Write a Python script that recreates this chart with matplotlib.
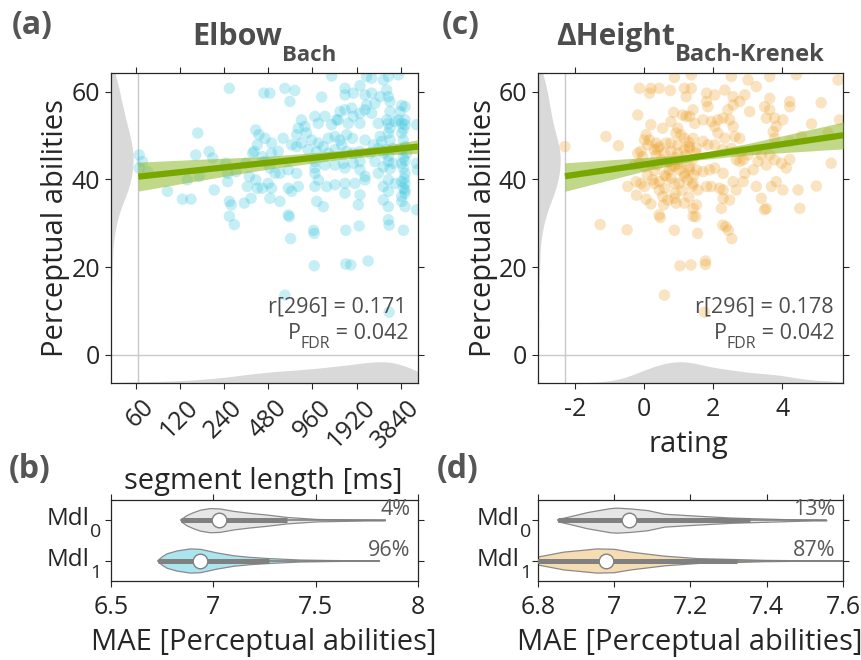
import numpy as np
import matplotlib
matplotlib.use("Agg")
import matplotlib.pyplot as plt
import matplotlib.transforms as mtransforms
from matplotlib.ticker import NullLocator

FONT = "Open Sans"
plt.rcParams["font.family"] = [FONT, "DejaVu Sans"]
plt.rcParams["axes.unicode_minus"] = False

# ---------------- data: panel (a) Elbow_Bach ----------------
elbow_ms = [
    261, 159, 63.5, 66.6, 63.5, 72.5, 154, 190, 201, 247,
    254, 254, 163, 135, 99, 125, 143, 206, 261, 269,
    261, 330, 367, 357, 395, 346, 405, 437, 290, 339,
    395, 415, 405, 385, 376, 437, 448,
    282, 668, 682, 978, 988, 1621, 1999, 3199, 4005, 988,
    1621, 1754, 2301, 624, 3199,
    1298, 2246, 2432, 3160, 3697, 2920, 493, 624, 728, 675,
    1110, 1600, 1600, 2025, 1823, 2191, 2432, 2780, 3080, 3160,
    3240, 4105, 2560, 2246, 1777, 1600, 1400, 1480, 809, 999,
    1053, 1169, 1298, 1441, 1686, 1823, 2025, 2025, 2191, 2432,
    2700, 3240, 3080, 3510, 3697, 3896, 4105, 4925, 854, 769,
    750, 876, 948, 1053, 1233, 1368, 1480, 1642, 1800, 1520,
    2191, 2497, 2780, 2850, 3160, 3240, 3896, 3995, 4105, 506,
    607, 693, 750, 809, 898, 1027, 1139, 1233, 1368, 1642,
    1823, 2025, 2370, 2700, 2920, 3410, 3896, 4210, 456, 506,
    562, 456, 493, 534, 577, 658, 750, 999, 999, 999,
    1169, 1368, 1560, 1600, 1823, 2025, 2025, 2191, 2560, 2700,
    2920, 3160, 3410, 3896, 3995, 4105, 4925, 4980, 480, 506,
    658, 693, 769, 999, 1053, 1200, 1368, 1600, 1600, 1870,
    2025, 2191, 2920, 3160, 3510, 3896, 4105, 4105, 3896, 493,
    577, 1027, 1139, 1973, 2920, 3160, 4105, 4925, 658, 3160,
    4000, 4105, 4050, 3995, 4105, 3900, 4105, 4000, 3800, 3896,
    3160, 3240, 3080, 3160, 3240, 3160,
]
elbow_perc = [
    60.8, 50.6, 45.6, 44.1, 42.6, 41.8, 45.6, 46.4, 44.9, 43.7,
    41.4, 39.5, 40.7, 39.9, 37.3, 35.5, 35.5, 37.6, 35.0, 34.2,
    31.6, 34.6, 35.7, 40.7, 39.9, 38.4, 38.0, 38.0, 41.8, 43.7,
    51.3, 50.2, 47.9, 46.4, 46.0, 45.2, 59.7,
    29.7, 31.5, 26.5, 28.4, 27.7, 28.4, 29.4, 29.6, 28.4, 20.3,
    20.7, 20.5, 21.4, 13.6, 9.7,
    63.6, 63.5, 63.1, 63.5, 63.9, 62.7, 59.7, 60.8, 60.3, 57.8,
    58.8, 60.8, 59.3, 61.4, 59.7, 59.3, 59.7, 58.9, 60.4, 58.9,
    57.8, 56.6, 57.4, 57.0, 56.3, 55.9, 53.6, 55.5, 53.6, 54.4,
    52.8, 54.4, 52.5, 53.6, 52.8, 54.4, 55.1, 52.8, 55.9, 55.1,
    52.8, 55.5, 53.6, 53.2, 53.6, 52.8, 53.6, 52.5, 52.1, 51.7,
    50.2, 50.6, 49.0, 48.3, 49.4, 49.8, 49.0, 50.2, 49.4, 47.9,
    49.0, 47.9, 49.8, 48.7, 50.6, 49.0, 50.6, 49.0, 47.5, 48.3,
    49.4, 47.9, 47.5, 48.3, 46.8, 46.4, 47.5, 46.0, 46.8, 46.4,
    46.0, 46.4, 46.0, 47.1, 46.0, 47.1, 46.8, 46.0, 49.4, 46.0,
    46.4, 44.1, 42.6, 41.4, 41.4, 42.2, 41.4, 44.1, 42.6, 41.4,
    43.3, 43.3, 43.7, 42.6, 43.7, 44.1, 42.2, 40.7, 44.1, 41.4,
    42.9, 44.1, 43.7, 43.7, 42.6, 41.4, 43.7, 42.2, 39.1, 38.0,
    38.0, 37.3, 38.4, 38.4, 39.9, 38.4, 38.8, 39.1, 36.9, 39.1,
    36.5, 39.9, 38.4, 39.9, 39.1, 39.5, 39.1, 37.6, 36.1, 35.7,
    35.0, 35.0, 33.8, 34.2, 35.3, 33.8, 33.8, 33.1, 31.9, 30.8,
    45.0, 44.3, 40.2, 38.0, 36.9, 35.0, 52.5, 51.5, 55.5, 56.9,
    52.8, 51.7, 46.8, 45.3, 42.4, 37.3,
]
seg_ticks = [60, 120, 240, 480, 960, 1920, 3840]
seg_tick_labels = ["60", "120", "240", "480", "960", "1920", "3840"]
elbow_fit_ms = [62.5, 5030]
elbow_fit_y = [40.65, 47.5]
elbow_ci_ms = [62.5, 150, 450, 1500, 3000, 5030]
elbow_ci_lo = [37.35, 39.55, 42.23, 44.61, 45.59, 45.95]
elbow_ci_hi = [43.95, 44.55, 45.23, 46.61, 47.79, 49.05]
elbow_min_ms = 62.5

# ---------------- data: panel (c) dHeight_Bach-Krenek ----------------
rating = [
    0.88, -0.13, 0.20, 0.16, 0.44, 0.76, 1.17, 1.22, -0.18, 0.20,
    0.54, -1.10, -0.74, -2.29, 0.86, 0.78, 1.12, 1.22, 0.98, 0.93,
    1.07, 1.17, 0.06, 0.01, 0.16, 0.35, 0.11, 0.44, 0.64, 0.78,
    0.98, -0.18, -0.09, -0.04, 0.30, 0.35, 0.59, 0.78, 0.98, 1.17,
    1.31, -0.28, -0.13, 0.01, 0.20, 0.40, 0.73, 0.88, 1.02, 1.17,
    1.31, -0.47, -0.23, -0.09, 0.01, 0.25, 0.30, 0.44, 0.64, 0.78,
    0.88, 1.02, 1.17, 1.26, -0.22, 0.06, 0.20, 0.44, 0.54, 0.69,
    0.88, 0.93, 1.17, 0.57, 0.44,
    1.37, 2.53, 3.01, 3.64, 4.41, 5.62, 3.25, 1.37, 1.81, 2.05,
    2.34, 2.58, 2.77, 2.92, 1.81, 1.85, 2.58, 2.43, 1.42, 1.47,
    1.32, 1.71, 1.95, 2.14, 2.29, 2.48, 2.58, 2.05, 2.14, 2.34,
    2.63, 2.77, 3.06, 3.49, 3.64, 3.64, 3.54, 3.78, 4.02, 4.22,
    4.22, 3.83, 3.74, 3.78, 5.13, 4.85, 5.66, 5.33, 4.56, 4.22,
    1.42, 1.71, 1.85, 1.32, 1.52, 2.05, 2.29, 2.53, 2.82, 3.01,
    3.25, 3.40, 3.64, 3.30, 2.67, 2.77, 2.87, 3.54, 3.78, 3.98,
    4.12, 4.22, 5.42, 1.32, 1.52, 1.71, 1.90, 2.05, 2.29, 2.92,
    3.16, 1.42, 1.56, 1.81, 1.95, 2.19, 2.29, 2.58, 2.87, 2.67,
    3.25, 3.69, 3.83, 4.02, 4.46, 4.99, 1.52, 2.29, 2.48, 3.40,
    3.54, 3.49, 4.51, 2.24, 1.42, 1.42,
    -1.27, -0.49, 0.47, 1.50, 0.88, 1.55, 2.28, 2.37, 2.44, 2.54,
    1.04, 1.36, 1.78, 1.78, 0.59, 1.75,
    0.50, 0.70, 0.90, 1.10, 0.30, 0.60, 1.00, 1.20, 0.80, 0.40,
    1.30, 0.10, 0.60, 1.10, 0.90, 1.30, 1.40, 1.45, 1.40, 1.50,
]
height_perc = [
    63.3, 60.8, 60.8, 59.7, 60.8, 60.3, 60.8, 58.9, 54.7, 52.5,
    51.7, 49.8, 47.7, 47.5, 55.3, 53.2, 54.7, 54.4, 51.7, 50.6,
    50.2, 49.4, 50.2, 49.0, 49.0, 48.3, 47.9, 47.5, 48.3, 48.3,
    47.9, 46.0, 46.4, 45.2, 46.8, 45.6, 46.0, 46.4, 46.0, 46.8,
    47.5, 43.3, 43.7, 42.9, 43.7, 43.3, 42.2, 42.9, 42.2, 41.4,
    42.2, 38.4, 39.5, 39.1, 38.4, 39.9, 39.1, 39.5, 40.7, 40.3,
    39.1, 39.1, 40.7, 39.9, 36.4, 35.5, 34.4, 37.6, 36.1, 35.3,
    35.7, 34.6, 34.6, 34.2, 31.9,
    63.9, 63.5, 62.7, 63.5, 63.9, 62.7, 61.2, 60.8, 59.7, 59.3,
    60.4, 58.9, 57.8, 59.3, 57.8, 56.6, 57.0, 55.9, 55.9, 52.8,
    54.4, 53.6, 53.2, 53.6, 54.0, 53.6, 52.1, 52.1, 50.6, 49.4,
    49.8, 49.4, 55.5, 56.6, 58.5, 55.9, 54.0, 54.0, 53.6, 56.6,
    57.8, 52.1, 50.9, 49.4, 57.5, 52.7, 53.6, 50.6, 49.8, 48.7,
    49.4, 48.7, 47.9, 47.1, 47.1, 47.9, 46.8, 47.1, 46.4, 45.6,
    46.8, 45.6, 45.6, 44.1, 44.5, 44.1, 44.5, 43.3, 44.5, 43.7,
    42.6, 44.6, 43.7, 42.9, 42.2, 41.8, 42.2, 42.6, 41.4, 41.4,
    42.2, 39.1, 37.6, 38.4, 38.4, 38.0, 37.6, 39.5, 39.5, 37.6,
    38.4, 38.4, 39.5, 37.6, 37.6, 38.5, 34.2, 35.7, 35.3, 35.7,
    33.4, 33.1, 33.4, 33.4, 33.4, 31.6,
    29.7, 28.5, 31.3, 31.5, 28.4, 27.7, 29.6, 29.2, 28.4, 26.5,
    20.3, 20.5, 21.4, 20.6, 13.6, 9.7,
    44.5, 44.0, 45.0, 44.0, 42.0, 41.0, 43.5, 45.5, 43.0, 47.0,
    48.5, 41.0, 38.0, 37.5, 36.8, 36.0, 38.5, 41.0, 44.5, 46.0,
]
rating_ticks = [-2, 0, 2, 4]
height_fit_r = [-2.29, 5.77]
height_fit_y = [40.75, 50.1]
height_ci_r = [-2.29, 0.0, 1.5, 3.0, 5.77]
height_ci_lo = [37.3, 41.9, 44.4, 45.6, 47.0]
height_ci_hi = [43.8, 45.0, 45.8, 48.2, 53.1]
rating_min = -2.29

# ---------------- data: violins (b) and (d) ----------------
b0_x = [6.842, 6.87, 6.902, 6.935, 6.984, 7.032, 7.098, 7.179, 7.26, 7.358, 7.505, 7.667, 7.838]
b0_w = [0.03, 0.13, 0.20, 0.26, 0.30, 0.29, 0.23, 0.18, 0.14, 0.08, 0.03, 0.015, 0.0]
b0_stats = dict(lo=6.842, q3=7.36, hi=7.84, med=7.03)
b1_x = [6.731, 6.75, 6.772, 6.821, 6.886, 6.935, 7.016, 7.098, 7.179, 7.273, 7.42, 7.58, 7.81]
b1_w = [0.03, 0.11, 0.18, 0.25, 0.30, 0.29, 0.20, 0.13, 0.09, 0.06, 0.025, 0.012, 0.0]
b1_stats = dict(lo=6.731, q3=7.273, hi=7.81, med=6.935)
d0_x = [6.853, 6.89, 6.929, 6.99, 7.008, 7.043, 7.087, 7.131, 7.218, 7.306, 7.359, 7.482, 7.556]
d0_w = [0.03, 0.11, 0.20, 0.30, 0.31, 0.29, 0.25, 0.16, 0.11, 0.065, 0.05, 0.016, 0.0]
d0_stats = dict(lo=6.853, q3=7.357, hi=7.556, med=7.038)
d1_x = [6.74, 6.77, 6.8, 6.867, 6.955, 6.999, 7.043, 7.131, 7.218, 7.324, 7.394, 7.5, 7.62]
d1_w = [0.0, 0.06, 0.10, 0.22, 0.30, 0.29, 0.22, 0.12, 0.06, 0.035, 0.016, 0.006, 0.0]
d1_stats = dict(lo=6.74, q3=7.323, hi=7.65, med=6.98)

pct_b = ["4%", "96%"]
pct_d = ["13%", "87%"]

# ---------------- styling ----------------
W, H = 862, 660
fig = plt.figure(figsize=(W / 100, H / 100), dpi=100)
TXT = "#262626"
GREY_TXT = "#4d4d4d"
CYAN = "#2dc2dc"
ORANGE = "#eb9b1d"
KDE_C = "#d9d9d9"
LINE_G = "#c9c9c9"
TICK_FS = 18
LABEL_FS = 21


def ax_px(l, t, r, b):
    return fig.add_axes([l / W, 1 - b / H, (r - l) / W, (b - t) / H])


ax_a = ax_px(111, 73, 418, 383)
ax_c = ax_px(538.3, 73, 843.3, 383)
ax_b = ax_px(111, 500, 418, 580.7)
ax_d = ax_px(537.7, 500, 843.3, 580.7)


def style(ax, labelsize=TICK_FS, pad=4):
    for s in ax.spines.values():
        s.set_color(TXT)
        s.set_linewidth(0.9)
    ax.tick_params(direction="out", top=True, right=True, length=4, width=0.8,
                   colors=TXT, labelsize=labelsize, pad=pad)


def kde(vals, grid):
    v = np.asarray(vals, float)
    bw = 1.06 * v.std() * len(v) ** (-0.2)
    d = np.exp(-0.5 * ((grid[:, None] - v[None, :]) / bw) ** 2).sum(axis=1)
    return d / d.max()


YLIM = (-6.45, 64.3)


def scatter_panel(ax, x, y, color, fit_x, fit_y, ci_x, ci_lo, ci_hi, xmin_line, xlim, logx):
    ax.set_ylim(*YLIM)
    ax.set_xlim(*xlim)
    trans = mtransforms.blended_transform_factory(ax.transAxes, ax.transData)
    yg = np.linspace(YLIM[0], YLIM[1], 400)
    ax.fill_betweenx(yg, 0, 0.072 * kde(y, yg), transform=trans, color=KDE_C, lw=0, zorder=1)
    if logx:
        tg = np.linspace(np.log2(xlim[0]), np.log2(xlim[1]), 400)
        dens = kde(np.log2(x), tg)
        xg = 2 ** tg
    else:
        xg = np.linspace(xlim[0], xlim[1], 400)
        dens = kde(x, xg)
    ax.fill_between(xg, YLIM[0], YLIM[0] + 4.85 * dens, color=KDE_C, lw=0, zorder=1)
    ax.axvline(xmin_line, color=LINE_G, lw=1, zorder=1.5)
    ax.axhline(0, color=LINE_G, lw=1, zorder=1.5)
    ax.scatter(x, y, s=68, c=color, alpha=0.27, edgecolors="none", zorder=2)
    ax.fill_between(ci_x, ci_lo, ci_hi, color="#8fb82a", alpha=0.55, lw=0, zorder=3)
    ax.plot(fit_x, fit_y, color="#78a800", lw=4.5, solid_capstyle="butt", zorder=4)
    ax.set_yticks([0, 20, 40, 60])
    style(ax)


# panel (a)
ax_a.set_xscale("log", base=2)
scatter_panel(ax_a, elbow_ms, elbow_perc, CYAN, elbow_fit_ms, elbow_fit_y,
              elbow_ci_ms, elbow_ci_lo, elbow_ci_hi, elbow_min_ms, (40.8, 5030), True)
ax_a.set_xticks(seg_ticks)
ax_a.xaxis.set_minor_locator(NullLocator())
ax_a.set_xticklabels(seg_tick_labels, rotation=45, ha="right", va="top",
                     rotation_mode="anchor")
ax_a.tick_params(axis="x", pad=6)
shift = mtransforms.ScaledTranslation(6 / 100, 2 / 100, fig.dpi_scale_trans)
for lbl in ax_a.get_xticklabels():
    lbl.set_transform(lbl.get_transform() + shift)

# panel (c)
scatter_panel(ax_c, rating, height_perc, ORANGE, height_fit_r, height_fit_y,
              height_ci_r, height_ci_lo, height_ci_hi, rating_min, (-3.06, 5.77), False)
ax_c.set_xticks(rating_ticks)
ax_c.tick_params(axis="x", pad=6)


def violin(ax, ypos, xs, ws, face, st):
    xf = np.linspace(xs[0], xs[-1], 300)
    wf = np.interp(xf, xs, ws)
    ax.fill_between(xf, ypos - wf, ypos + wf, facecolor=face, edgecolor="#8a8a8a",
                    lw=0.9, zorder=2)
    ax.plot([st["lo"], st["hi"]], [ypos, ypos], color="#808080", lw=1.2, zorder=3)
    ax.plot([st["lo"], st["q3"]], [ypos, ypos], color="#808080", lw=3.6,
            solid_capstyle="butt", zorder=3)
    ax.plot([st["med"]], [ypos], "o", ms=10.5, mfc="white", mec="#808080", mew=1.0, zorder=4)


def violin_panel(ax, xlim, xticks, xticklabels, v0, v1, face1, pcts):
    ax.set_xlim(*xlim)
    ax.set_ylim(2.5, 0.5)
    violin(ax, 1, v0[0], v0[1], "#e6e6e6", v0[2])
    violin(ax, 2, v1[0], v1[1], face1, v1[2])
    ax.set_xticks(xticks)
    ax.set_xticklabels(xticklabels)
    ax.set_yticks([1, 2])
    ax.set_yticklabels(["", ""])
    style(ax, pad=6)
    tr = mtransforms.blended_transform_factory(ax.transAxes, ax.transData)
    ax.text(0.975, 0.88, pcts[0], transform=tr, ha="right", va="baseline",
            fontsize=15.5, color="#595959")
    ax.text(0.975, 1.88, pcts[1], transform=tr, ha="right", va="baseline",
            fontsize=15.5, color="#595959")


violin_panel(ax_b, (6.5, 8.0), [6.5, 7, 7.5, 8], ["6.5", "7", "7.5", "8"],
             (b0_x, b0_w, b0_stats), (b1_x, b1_w, b1_stats), "#abe5ef", pct_b)
violin_panel(ax_d, (6.8, 7.6), [6.8, 7.0, 7.2, 7.4, 7.6], ["6.8", "7", "7.2", "7.4", "7.6"],
             (d0_x, d0_w, d0_stats), (d1_x, d1_w, d1_stats), "#f6dcb2", pct_d)

# ---------------- text helpers ----------------
renderer = fig.canvas.get_renderer()


def multi_text(x_px, base_px, parts, color, weight="normal", ha="center"):
    objs = []
    widths = []
    for txt, size, drop in parts:
        t = fig.text(0, 0, txt, fontsize=size, fontweight=weight, color=color,
                     ha="left", va="baseline")
        objs.append((t, drop))
        widths.append(t.get_window_extent(renderer).width)
    total = sum(widths)
    if ha == "center":
        x0 = x_px - total / 2
    elif ha == "right":
        x0 = x_px - total
    else:
        x0 = x_px
    for (t, drop), w in zip(objs, widths):
        t.set_position((x0 / W, 1 - (base_px + drop) / H))
        x0 += w


# titles
multi_text(264.5, 45, [("Elbow", 22, 0), ("Bach", 16, 16)], GREY_TXT, weight="bold")
multi_text(690.8, 45, [("\u0394Height", 21.5, 0), ("Bach-Krenek", 17, 16)], GREY_TXT, weight="bold")

# panel letters
for lab, xp, yp in [("(a)", 12, 34), ("(c)", 442, 34), ("(b)", 9, 478), ("(d)", 437, 478)]:
    fig.text(xp / W, 1 - yp / H, lab, fontsize=23, fontweight="bold", color="#555555",
             ha="left", va="baseline")

# stats texts
multi_text(406.7, 312.7, [("r[296] = 0.171", 15.5, 0)], GREY_TXT, ha="right")
multi_text(408.3, 339.3, [("P", 15.5, 0), ("FDR", 11.5, 9), (" = 0.042", 15.5, 0)], GREY_TXT, ha="right")
multi_text(833.5, 312.7, [("r[296] = 0.178", 15.5, 0)], GREY_TXT, ha="right")
multi_text(835.0, 339.3, [("P", 15.5, 0), ("FDR", 11.5, 9), (" = 0.042", 15.5, 0)], GREY_TXT, ha="right")

# model tick labels
for xr in (101, 531):
    multi_text(xr, 525, [("Mdl", 17.5, 0), ("0", 14, 12)], TXT, ha="right")
    multi_text(xr, 565.7, [("Mdl", 17.5, 0), ("1", 14, 12)], TXT, ha="right")

# axis labels
fig.text(56 / W, 1 - 228 / H, "Perceptual abilities", rotation=90, fontsize=LABEL_FS,
         color=TXT, ha="center", va="center")
fig.text(484 / W, 1 - 228 / H, "Perceptual abilities", rotation=90, fontsize=LABEL_FS,
         color=TXT, ha="center", va="center")
fig.text(263 / W, 1 - 489 / H, "segment length [ms]", fontsize=LABEL_FS, color=TXT,
         ha="center", va="baseline")
fig.text(688 / W, 1 - 452 / H, "rating", fontsize=LABEL_FS, color=TXT, ha="center", va="baseline")
fig.text(264 / W, 1 - 650 / H, "MAE [Perceptual abilities]", fontsize=LABEL_FS, color=TXT,
         ha="center", va="baseline")
fig.text(690 / W, 1 - 650 / H, "MAE [Perceptual abilities]", fontsize=LABEL_FS, color=TXT,
         ha="center", va="baseline")

fig.savefig("out.png", dpi=100)
